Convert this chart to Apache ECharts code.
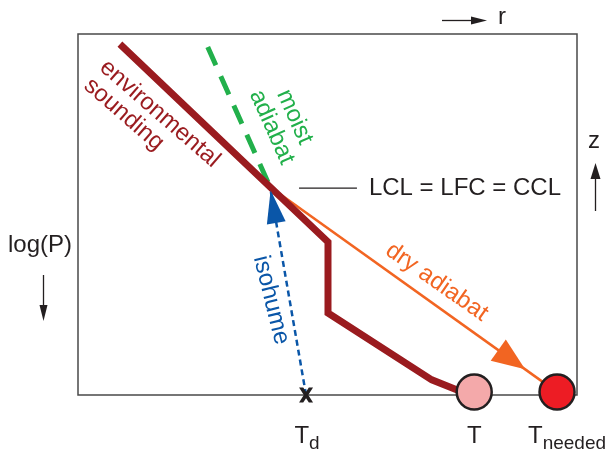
<!DOCTYPE html>
<html><head><meta charset="utf-8">
<script src="https://cdn.jsdelivr.net/npm/echarts@6/dist/echarts.min.js"></script>
<style>html,body{margin:0;padding:0;background:#fff}#c{width:605px;height:453px}</style>
</head><body><div id="c"></div>
<script>
// Schematic values in axis units (x: temperature-like 0..100, y: height-like 0..100)
const soundingX = [8.4, 38.5, 50.1, 50.1, 70.9, 76.5];
const soundingY = [97.2, 57.6, 42.4, 22.7, 4.2, 1.1];
const moistX = [26.0, 38.5];
const moistY = [96.4, 57.6];
const dryX = [38.5, 96.0];
const dryY = [57.6, 0.8];
const dryArrowTipX = 89.6;
const dryArrowTipY = 7.1;
const isohumeX = [45.7, 38.6];
const isohumeY = [0, 56.7];
const lclLineX = [44.3, 55.9];
const lclLineY = [57.3, 57.3];
const pointNames = ['Td', 'T', 'Tneeded'];
const pointX = [45.7, 79.4, 96.0];
const pointY = [0, 0.8, 0.8];
const tickLabels = ['{m|T}{s|d}', '{m|T}', '{m|T}{s|needed}'];
const annotationTexts = ['environmental\nsounding', 'moist\nadiabat', 'isohume', 'dry adiabat', 'LCL = LFC = CCL'];

const FONT = '"Liberation Sans", Arial, Helvetica, sans-serif';
const C_SOUND = '#9a1b1f', C_GREEN = '#22b04b', C_ORANGE = '#f26522', C_BLUE = '#0a56a8', C_TEXT = '#231f20';

const zip = (xs, ys) => xs.map((x, i) => [x, ys[i]]);

function arrowHead(color, L, W) {
  return function (params, api) {
    const tip = api.coord([api.value(0), api.value(1)]);
    const from = api.coord([api.value(2), api.value(3)]);
    let dx = tip[0] - from[0], dy = tip[1] - from[1];
    const len = Math.hypot(dx, dy); dx /= len; dy /= len;
    const bx = tip[0] - dx * L, by = tip[1] - dy * L;
    return {type: 'polygon', shape: {points: [tip, [bx - dy * W, by + dx * W], [bx + dy * W, by - dx * W]]}, style: {fill: color}};
  };
}

// annotation anchors (layout, in axis units) and styles
const annos = [
  {p: [3.4, 89.1], rot: -41, align: 'left', color: C_SOUND, lh: 24},
  {p: [41.1, 75.6], rot: -66, align: 'center', color: C_GREEN, lh: 25},
  {p: [38.7, 26.3], rot: -76, align: 'center', color: C_BLUE, lh: 24},
  {p: [71.9, 31.3], rot: -35, align: 'center', color: C_ORANGE, lh: 24},
  {p: [58.3, 57.3], rot: 0, align: 'left', color: C_TEXT, lh: 24}
];
const tickOffsets = [[1, 0], [0, 0], [10, 0]];

const chart = echarts.init(document.getElementById('c'), null, {renderer: 'canvas'});
chart.setOption({
  animation: false,
  backgroundColor: '#fff',
  grid: {left: 78, right: 28, top: 34, bottom: 58, show: true, borderColor: '#4a4a4a', borderWidth: 1.5, backgroundColor: 'transparent'},
  xAxis: {type: 'value', min: 0, max: 100, show: false},
  yAxis: {type: 'value', min: 0, max: 100, show: false},
  graphic: [
    {type: 'text', x: 40, y: 245, style: {text: 'log(P)', fill: C_TEXT, fontSize: 24, fontFamily: FONT, align: 'center', verticalAlign: 'middle'}},
    {type: 'line', shape: {x1: 43.5, y1: 275, x2: 43.5, y2: 308}, style: {stroke: C_TEXT, lineWidth: 1.3}},
    {type: 'polygon', shape: {points: [[39.5, 305], [47.5, 305], [43.5, 321]]}, style: {fill: C_TEXT}},
    {type: 'text', x: 594, y: 141, style: {text: 'z', fill: C_TEXT, fontSize: 24, fontFamily: FONT, align: 'center', verticalAlign: 'middle'}},
    {type: 'line', shape: {x1: 595.5, y1: 176, x2: 595.5, y2: 211}, style: {stroke: C_TEXT, lineWidth: 1.3}},
    {type: 'polygon', shape: {points: [[590.5, 179], [600.5, 179], [595.5, 163]]}, style: {fill: C_TEXT}},
    {type: 'text', x: 502, y: 17, style: {text: 'r', fill: C_TEXT, fontSize: 24, fontFamily: FONT, align: 'center', verticalAlign: 'middle'}},
    {type: 'line', shape: {x1: 442, y1: 20.5, x2: 474, y2: 20.5}, style: {stroke: C_TEXT, lineWidth: 1.3}},
    {type: 'polygon', shape: {points: [[471, 16.5], [471, 24.5], [487, 20.5]]}, style: {fill: C_TEXT}}
  ],
  series: [
    {type: 'line', data: zip(dryX, dryY), showSymbol: false, symbol: 'none', lineStyle: {color: C_ORANGE, width: 2.5}, z: 2},
    {type: 'line', data: zip(isohumeX, isohumeY), showSymbol: false, symbol: 'none', lineStyle: {color: C_BLUE, width: 2.5, type: [6, 4]}, z: 2},
    {type: 'line', data: zip(moistX, moistY), showSymbol: false, symbol: 'none', lineStyle: {color: C_GREEN, width: 5, type: [20, 12], cap: 'butt'}, z: 3},
    {type: 'line', data: zip(soundingX, soundingY), showSymbol: false, symbol: 'none', lineStyle: {color: C_SOUND, width: 7, join: 'miter', cap: 'butt'}, z: 4},
    {type: 'line', data: zip(lclLineX, lclLineY), showSymbol: false, symbol: 'none', lineStyle: {color: C_TEXT, width: 1.2}, z: 2},
    {type: 'custom', renderItem: arrowHead(C_ORANGE, 33, 13), encode: {x: [0, 2], y: [1, 3]},
      data: [[dryArrowTipX, dryArrowTipY, dryX[0], dryY[0]]], z: 5, clip: false},
    {type: 'custom', renderItem: arrowHead(C_BLUE, 33, 9.5), encode: {x: [0, 2], y: [1, 3]},
      data: [[isohumeX[1], isohumeY[1], isohumeX[0], isohumeY[0]]], z: 5, clip: false},
    {type: 'scatter', clip: false, z: 6,
      data: pointNames.map((n, i) => {
        if (i === 0) return {name: n, value: [pointX[i], pointY[i]], symbol: 'path://M0,0 L4.2,0 L7,4.2 L9.8,0 L14,0 L9.2,7.5 L14,15 L9.8,15 L7,10.8 L4.2,15 L0,15 L4.8,7.5 Z', symbolSize: [14, 15], itemStyle: {color: C_TEXT, opacity: 1}};
        return {name: n, value: [pointX[i], pointY[i]], symbol: 'circle', symbolSize: 35,
          itemStyle: {color: i === 1 ? '#f4a9aa' : '#ed1c24', borderColor: C_TEXT, borderWidth: 2.5, opacity: 1}};
      })
    },
    {type: 'scatter', clip: false, z: 7, symbolSize: 1, itemStyle: {color: 'transparent', opacity: 1},
      data: pointX.map((x, i) => ({value: [x, 0], label: {formatter: tickLabels[i], offset: tickOffsets[i]}})),
      label: {show: true, opacity: 1, position: 'bottom', distance: 24, color: C_TEXT, fontFamily: FONT,
        rich: {m: {fontSize: 24, lineHeight: 34, fontFamily: FONT, color: C_TEXT, opacity: 1}, s: {fontSize: 19, lineHeight: 17, verticalAlign: 'bottom', fontFamily: FONT, color: C_TEXT, opacity: 1}}}
    },
    {type: 'scatter', clip: false, z: 8, symbolSize: 1, itemStyle: {color: 'transparent', opacity: 1},
      data: annos.map((a, i) => ({value: a.p, label: {formatter: annotationTexts[i], rotate: a.rot, align: a.align, color: a.color, lineHeight: a.lh}})),
      label: {show: true, opacity: 1, position: 'inside', verticalAlign: 'middle', fontSize: 24, fontFamily: FONT}
    }
  ]
});
</script></body></html>
